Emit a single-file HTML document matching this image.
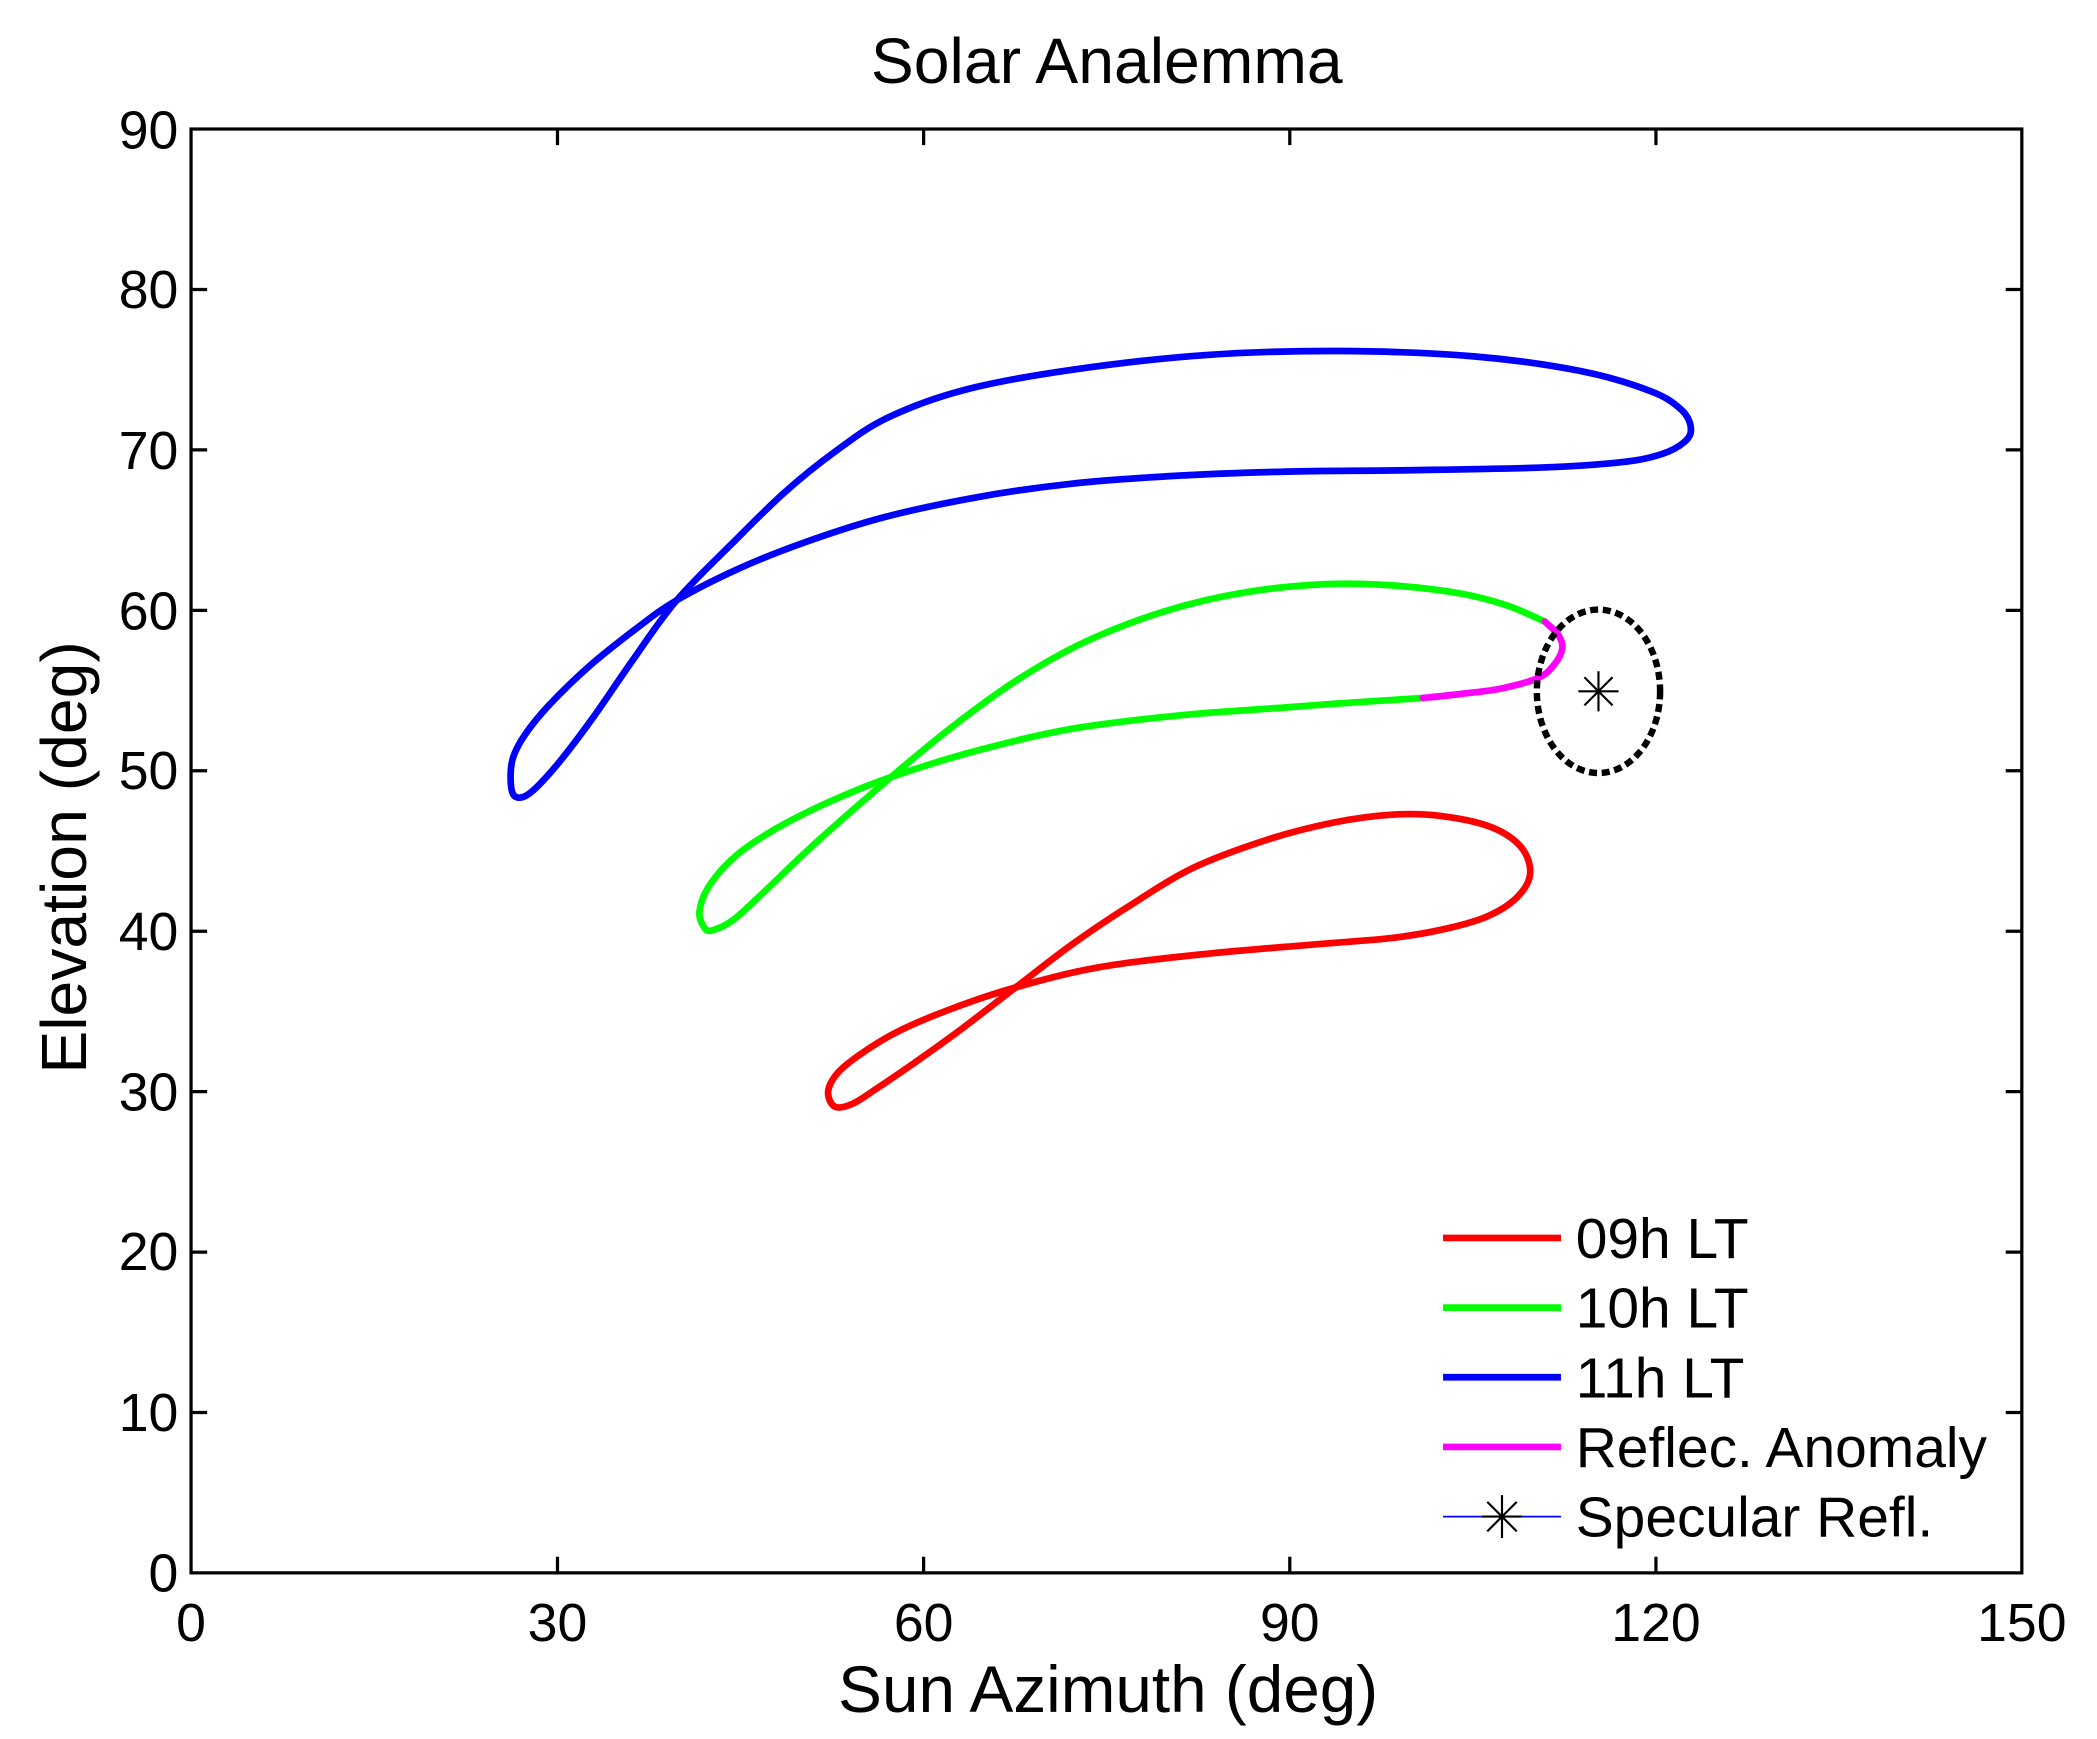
<!DOCTYPE html>
<html><head><meta charset="utf-8"><style>
html,body{margin:0;padding:0;background:#fff;}
svg{display:block;}
text{font-family:"Liberation Sans",Arial,sans-serif;fill:#000;}
</style></head><body>
<svg id="s" width="2097" height="1739" viewBox="0 0 1565 1298" xmlns="http://www.w3.org/2000/svg">
<rect width="1565" height="1298" fill="#fff"/>
<text x="826" y="62" font-size="48" text-anchor="middle">Solar Analemma</text>
<g stroke="#000" stroke-width="2.4" fill="none">
<rect x="142.5" y="96.3" width="1366.5" height="1077.7"/>
<path d="M416,1174v-12M416,96.3v12M689.3,1174v-12M689.3,96.3v12M962.6,1174v-12M962.6,96.3v12M1235.9,1174v-12M1235.9,96.3v12"/>
<path d="M142.5,1054.3h12M1509,1054.3h-12M142.5,934.6h12M1509,934.6h-12M142.5,814.8h12M1509,814.8h-12M142.5,695.1h12M1509,695.1h-12M142.5,575.3h12M1509,575.3h-12M142.5,455.6h12M1509,455.6h-12M142.5,335.8h12M1509,335.8h-12M142.5,216.1h12M1509,216.1h-12"/>
</g>
<g font-size="40" text-anchor="middle">
<text x="142.5" y="1225">0</text><text x="416" y="1225">30</text><text x="689.3" y="1225">60</text><text x="962.6" y="1225">90</text><text x="1235.9" y="1225">120</text><text x="1509" y="1225">150</text>
</g>
<g font-size="40" text-anchor="end">
<text x="133" y="1188">0</text><text x="133" y="1068">10</text><text x="133" y="948">20</text><text x="133" y="829">30</text><text x="133" y="709">40</text><text x="133" y="589">50</text><text x="133" y="470">60</text><text x="133" y="350">70</text><text x="133" y="230">80</text><text x="133" y="111">90</text>
</g>
<text x="827" y="1278" font-size="49" text-anchor="middle">Sun Azimuth (deg)</text>
<text transform="translate(64,640) rotate(-90)" font-size="48" text-anchor="middle">Elevation (deg)</text>
<g fill="none" stroke-width="5" stroke-linejoin="round" stroke-linecap="round">
<polyline class="c" stroke="#0000ff" points="383,593 381,580 383,565 392,548 410,526 440,497 475,469 505,448 550,425 600,405 660,386 730,371 800,361 880,355 960,352 1050,351 1150,349 1210,345 1240,339 1257,330 1262,320 1255,306 1232,292 1180,277 1100,266 1000,262 900,265 800,276 720,291 662,312 622,338 585,368 548,404 505,448 472,493 443,535 418,568 400,588 390,595 383,593"/>
<polyline class="c" stroke="#00ff00" points="1062,521 1000,525 960,528 880,534 800,544 730,560 665,580 620,598 580,618 550,638 530,660 522,680 526,693 533,694 548,686 572,664 610,628 665,580 710,543 760,507 810,479 870,456 930,442 990,436 1040,437 1090,443 1125,452 1153,464"/>
<polyline class="c" stroke="#ff00ff" points="1153,464 1163,474 1166,484 1160,496 1148,506 1120,514 1090,518 1062,521"/>
<polyline class="c" stroke="#ff0000" points="623,826 618,815 625,801 642,787 670,770 710,753 758,737 820,722 900,712 980,705 1040,700 1080,693 1110,684 1132,670 1142,652 1135,632 1112,617 1075,609 1040,608 995,614 945,627 890,648 840,678 800,705 758,737 715,770 680,795 655,812 636,824 623,826"/>
</g>
<ellipse cx="1193" cy="516" rx="46" ry="61" fill="none" stroke="#000" stroke-width="4.8" stroke-dasharray="6,3.5"/>
<g stroke="#000" stroke-width="1.6">
<path d="M1193,501v30M1178,516h30M1182.5,505.5l21,21M1182.5,526.5l21,-21"/>
</g>
<g stroke-width="5">
<line x1="1077" y1="924" x2="1165" y2="924" stroke="#ff0000"/>
<line x1="1077" y1="976" x2="1165" y2="976" stroke="#00ff00"/>
<line x1="1077" y1="1028" x2="1165" y2="1028" stroke="#0000ff"/>
<line x1="1077" y1="1080" x2="1165" y2="1080" stroke="#ff00ff"/>
</g>
<line x1="1077" y1="1132" x2="1165" y2="1132" stroke="#0000ff" stroke-width="1.3"/>
<g stroke="#000" stroke-width="1.6"><path d="M1121,1116v32M1106,1132h30M1110,1121l22,22M1110,1143l22,-22"/></g>
<g font-size="42.5">
<text x="1176" y="939">09h LT</text>
<text x="1176" y="991">10h LT</text>
<text x="1176" y="1043">11h LT</text>
<text x="1176" y="1095">Reflec. Anomaly</text>
<text x="1176" y="1147">Specular Refl.</text>
</g>
</svg>
<script>
(function(){
var ns="http://www.w3.org/2000/svg";
var pls=document.querySelectorAll("polyline.c");
for(var k=0;k<pls.length;k++){
var pl=pls[k];
var a=pl.getAttribute("points").trim().split(/\s+/).map(function(s){var q=s.split(",");return [+q[0],+q[1]];});
var closed=a[0][0]==a[a.length-1][0]&&a[0][1]==a[a.length-1][1];
var n=a.length;
function P(i){ if(closed){var m=n-1;i=((i%m)+m)%m;return a[i];} return a[Math.max(0,Math.min(n-1,i))]; }
var d="M"+a[0][0]+","+a[0][1];
for(var i=0;i<n-1;i++){
var p0=P(i-1),p1=P(i),p2=P(i+1),p3=P(i+2);
var c1=[p1[0]+(p2[0]-p0[0])/6,p1[1]+(p2[1]-p0[1])/6];
var c2=[p2[0]-(p3[0]-p1[0])/6,p2[1]-(p3[1]-p1[1])/6];
d+="C"+c1[0].toFixed(1)+","+c1[1].toFixed(1)+" "+c2[0].toFixed(1)+","+c2[1].toFixed(1)+" "+p2[0]+","+p2[1];
}
var p=document.createElementNS(ns,"path");
p.setAttribute("d",d);p.setAttribute("stroke",pl.getAttribute("stroke"));
pl.parentNode.replaceChild(p,pl);
}
})();
</script>
</body></html>
